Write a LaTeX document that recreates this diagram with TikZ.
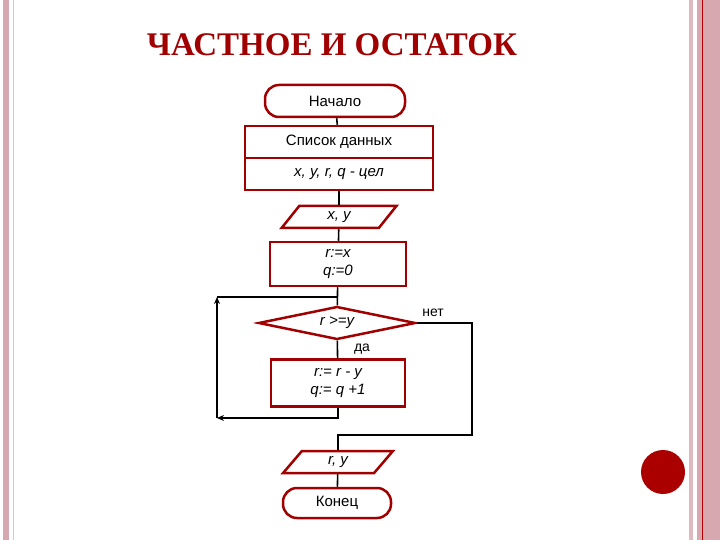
\documentclass[tikz,border=0pt]{standalone}
\usepackage{fontspec}
\setmainfont{Liberation Sans}
\newfontfamily\titlefont{Liberation Serif}
\usetikzlibrary{shapes.geometric,arrows.meta}
\definecolor{dred}{HTML}{A00000}
\definecolor{pinkb}{HTML}{D8A8B0}
\begin{document}
\begin{tikzpicture}[x=1pt,y=-1pt,
  box/.style={draw=dred,line width=2.5pt,inner sep=0pt,align=center,font=\fontsize{15}{18}\selectfont},
  term/.style={box,rounded corners=14pt},
  io/.style={box,trapezium,trapezium left angle=65,trapezium right angle=115,minimum height=22pt,minimum width=105pt,trapezium stretches=true},
  cond/.style={box,diamond,minimum width=157pt,minimum height=33pt,aspect=4.7},
  ln/.style={draw=black,line width=1.6pt},
  arr/.style={ln,-{Stealth[length=7pt,width=6pt]}}]
\useasboundingbox (0,0) rectangle (720,540);
\fill[white] (0,0) rectangle (720,540);
% borders
\fill[pinkb] (3,0) rectangle (9,540);
\draw[pinkb!70,line width=1pt] (13,0) -- (13,540);
\fill[pinkb!80] (689,0) rectangle (693,540);
\fill[pinkb] (697,0) rectangle (720,540);
\draw[red!70!black,line width=0.8pt] (702,0) -- (702,540);
\fill[dred!90!red] (663,472) circle (22);
% title
\node[text=dred,font=\titlefont\bfseries\fontsize{33}{36}\selectfont] (title) at (332,45) {ЧАСТНОЕ И ОСТАТОК};
% nodes
\node[term,minimum width=140pt,minimum height=32pt] (start) at (335,101) {Начало};
\node[box,minimum width=188pt,minimum height=32pt] (list) at (339,142) {Список данных};
\node[box,minimum width=188pt,minimum height=32pt,font=\fontsize{15}{18}\selectfont\itshape] (decl) at (339,174) {x, y, r, q - цел};
\node[io,minimum width=115pt,font=\fontsize{15}{18}\selectfont\itshape] (in) at (339,217) {x, y};
\node[box,minimum width=136pt,minimum height=44pt,font=\fontsize{15}{18}\selectfont\itshape] (init) at (338,264) {r:=x\\q:=0};
\node[cond,font=\fontsize{15}{18}\selectfont\itshape] (c) at (337,323) {r >=y};
\node[box,minimum width=134pt,minimum height=47pt,font=\fontsize{15}{18}\selectfont\itshape] (body) at (338,383) {r:= r - y\\q:= q +1};
\node[io,minimum width=110pt,font=\fontsize{15}{18}\selectfont\itshape] (out) at (338,462) {r, y};
\node[term,minimum width=108pt,minimum height=30pt] (end) at (337,503) {Конец};
\node[font=\fontsize{14}{16}\selectfont] (no) at (433,313) {нет};
\node[font=\fontsize{14}{16}\selectfont] (yes) at (362,349) {да};
% connectors
\coordinate (j) at (338,297);
\coordinate (bl) at (217,418);
\coordinate (tl) at (217,297);
\coordinate (m) at (338,435);
\draw[ln] (start) -- (list);
\draw[ln] (decl) -- (in);
\draw[ln] (in) -- (init);
\draw[ln] (init) -- (c);
\draw[ln] (c) -- (body);
\draw[arr] (body.south) |- (bl);
\draw[arr] (bl) -- (tl);
\draw[ln] (tl) -- (j);
\draw[ln] (c.east) -- (472,323) |- (m) -- (out);
\draw[ln] (out) -- (end);
\end{tikzpicture}
\end{document}
